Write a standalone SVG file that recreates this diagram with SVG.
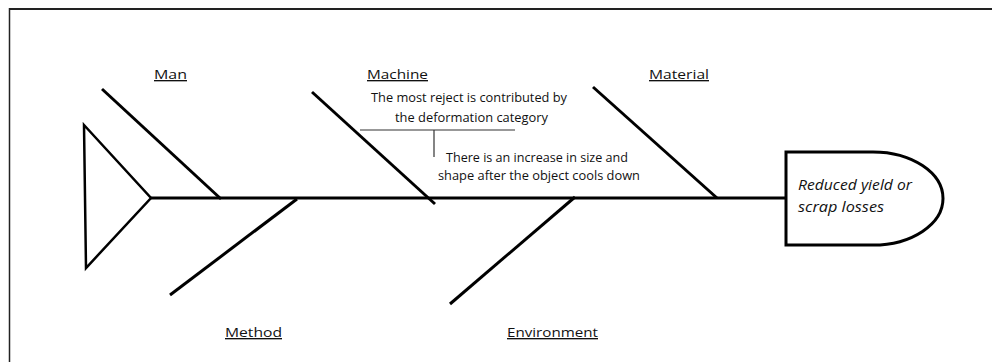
<svg xmlns="http://www.w3.org/2000/svg" width="992" height="362" viewBox="0 0 992 362">
<style>
.bone{stroke:#000;stroke-width:3;fill:none;stroke-linecap:butt}
.thin{stroke:#333;stroke-width:1.2;fill:none}
.lbl{font-family:"Open Sans","Liberation Sans",sans-serif;font-size:13.5px;fill:#111;text-decoration:underline}
.note{font-family:"Open Sans","Liberation Sans",sans-serif;font-size:12.5px;fill:#111}
.eff{font-family:"Open Sans","Liberation Sans",sans-serif;font-size:15px;font-style:italic;fill:#111}
</style>
<rect width="992" height="362" fill="#fff"/>
<g id="frame">
<line x1="9" y1="9" x2="992" y2="9" stroke="#222" stroke-width="2"/>
<line x1="9.5" y1="8" x2="9.5" y2="362" stroke="#222" stroke-width="1.5"/>
</g>
<g id="head">
<polygon points="84,125 151,198 86,268" fill="none" stroke="#000" stroke-width="2.5" stroke-linejoin="miter"/>
</g>
<g id="connectors">
<line class="bone" x1="151" y1="198" x2="786" y2="198"/>
<line class="bone" x1="102" y1="89" x2="221" y2="199"/>
<line class="bone" x1="312" y1="92" x2="435" y2="204"/>
<line class="bone" x1="593" y1="87" x2="717" y2="198"/>
<line class="bone" x1="297" y1="199" x2="170" y2="295"/>
<line class="bone" x1="575" y1="197" x2="450" y2="304"/>
<line class="thin" x1="360" y1="130" x2="515" y2="130"/>
<line class="thin" x1="434" y1="130" x2="434" y2="157"/>
</g>
<g id="effect">
<path d="M786,152 H873 A70,46.5 0 0 1 873,245 H786 Z" fill="#fff" stroke="#000" stroke-width="3"/>
<text class="eff" x="798" y="190" textLength="114" lengthAdjust="spacingAndGlyphs">Reduced yield or</text>
<text class="eff" x="798" y="212" textLength="86" lengthAdjust="spacingAndGlyphs">scrap losses</text>
</g>
<g id="man"><text class="lbl" x="154" y="79" textLength="33" lengthAdjust="spacingAndGlyphs">Man</text></g>
<g id="machine"><text class="lbl" x="367" y="79" textLength="61" lengthAdjust="spacingAndGlyphs">Machine</text></g>
<g id="material"><text class="lbl" x="649" y="79" textLength="60" lengthAdjust="spacingAndGlyphs">Material</text></g>
<g id="method"><text class="lbl" x="225" y="337" textLength="57" lengthAdjust="spacingAndGlyphs">Method</text></g>
<g id="environment"><text class="lbl" x="507" y="337" textLength="91" lengthAdjust="spacingAndGlyphs">Environment</text></g>
<g id="note1">
<text class="note" x="371" y="102" textLength="196" lengthAdjust="spacingAndGlyphs">The most reject is contributed by</text>
<text class="note" x="395" y="122" textLength="153" lengthAdjust="spacingAndGlyphs">the deformation category</text>
</g>
<g id="note2">
<text class="note" x="446" y="162" textLength="182" lengthAdjust="spacingAndGlyphs">There is an increase in size and</text>
<text class="note" x="438" y="180" textLength="202" lengthAdjust="spacingAndGlyphs">shape after the object cools down</text>
</g>
</svg>
